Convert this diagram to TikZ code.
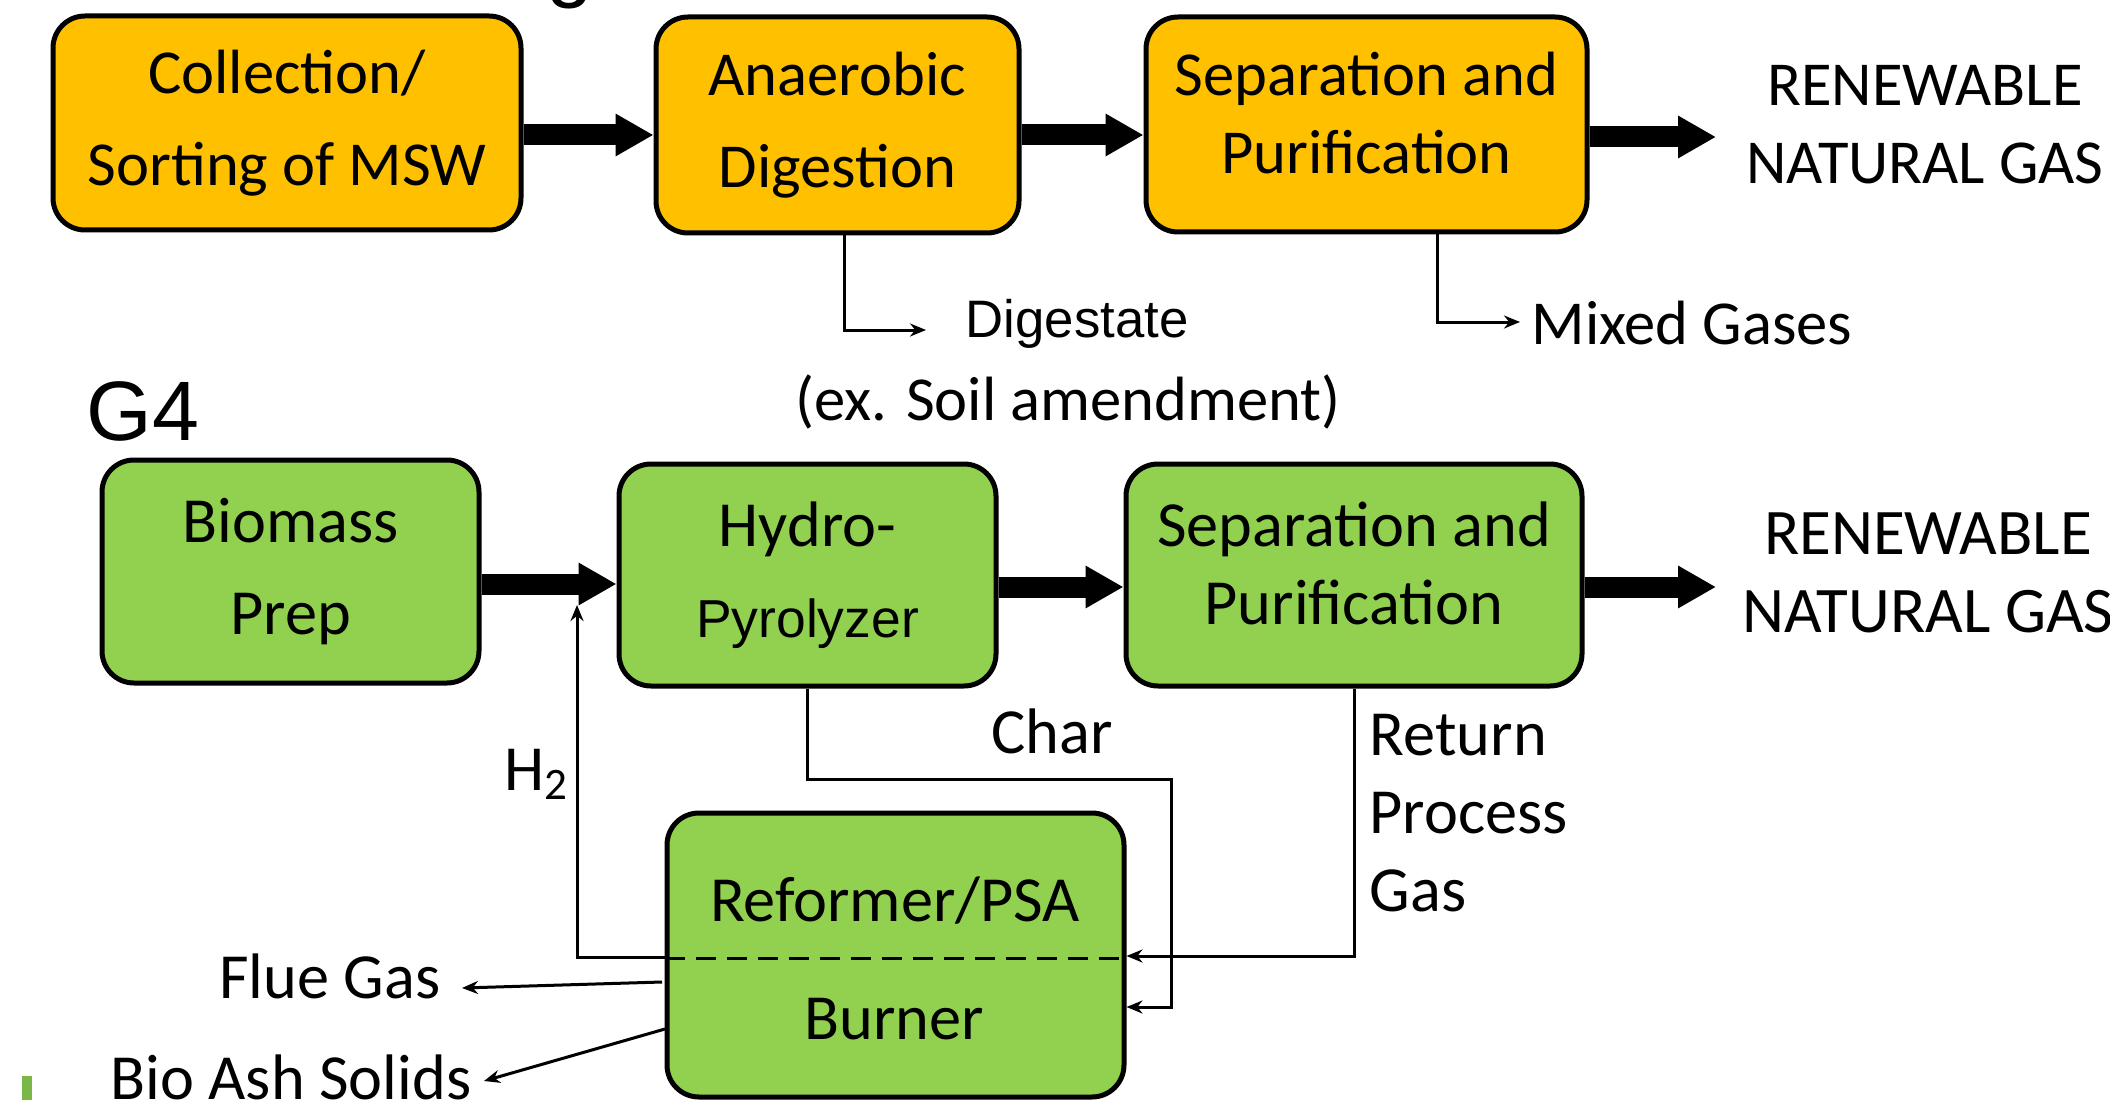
\documentclass[tikz,border=0pt]{standalone}
\usepackage{fontspec}
\setmainfont{Carlito}
\newfontfamily\arialfont{Liberation Sans}
\usetikzlibrary{arrows.meta,calc}
\definecolor{boxgold}{HTML}{FFC000}
\definecolor{boxgreen}{HTML}{92D050}
\definecolor{markgreen}{HTML}{7AB648}

\begin{document}
\begin{tikzpicture}[
		box/.style={draw=black,line width=0.05cm,rounded corners=0.32cm,align=center,inner sep=0pt},
		gold/.style={box,fill=boxgold,font=\fontsize{17.8}{26.2}\selectfont},
		leaf/.style={box,fill=boxgreen,font=\fontsize{18.3}{26.2}\selectfont},
		txt/.style={inner sep=0pt,align=center,font=\fontsize{17.8}{22.2}\selectfont},
		txtb/.style={inner sep=0pt,align=center,font=\fontsize{18.3}{22.2}\selectfont},
		arialtxt/.style={inner sep=0pt,font=\arialfont\fontsize{15}{18}\selectfont},
		pipe/.style={line width=0.21cm,-{Triangle[length=0.38cm,width=0.40cm]}},
		flow/.style={line width=0.03cm,-{Stealth[length=0.16cm,width=0.13cm]}},
	]
			\useasboundingbox (0,0) rectangle (21.1,-11);
			\clip (0,0) rectangle (21.1,-11);
			% headings
			\node[anchor=base,inner sep=0pt,font=\arialfont\fontsize{24}{24}\selectfont] (titleg) at (5.70,0.08) {g};
			\node[inner sep=0pt,font=\arialfont\fontsize{24}{24}\selectfont] (gfour) at (1.43,-4.11) {G4};
			\fill[markgreen] (0.22,-10.76) rectangle (0.32,-11);
			% anaerobic digestion row
			\node[gold,minimum width=4.68cm,minimum height=2.14cm] (collect) at (2.87,-1.23) {Collection/\\Sorting of MSW};
			\node[gold,minimum width=3.63cm,minimum height=2.16cm] (digest) at (8.375,-1.25) {Anaerobic\\Digestion};
			\node[gold,minimum width=4.41cm,minimum height=2.15cm,font=\fontsize{17.8}{22}\selectfont] (sepA) at (13.665,-1.245) {Separation and\\Purification\strut};
			\node[txt] (rngA) at (19.25,-1.25) {RENEWABLE\\NATURAL GAS};
			\node[arialtxt] (digout) at (10.77,-3.24) {Digestate};
			\node[txt] (soil) at (10.68,-4.02) {(ex. Soil amendment)};
			\node[txt] (mixed) at (16.92,-3.23) {Mixed Gases};
			\coordinate (rngtipA) at (17.16,-1.37);
			\coordinate (digtip) at (9.26,-3.30);
			\coordinate (mixtip) at (15.20,-3.22);
			\draw[pipe] (collect.east |- 0,-1.35) -- (digest.west |- 0,-1.35);
			\draw[pipe] (digest.east |- 0,-1.35) -- (sepA.west |- 0,-1.35);
			\draw[pipe] (sepA.east |- 0,-1.37) -- (rngtipA);
			\draw[flow] (digest.south -| 8.44,0) |- (digtip);
			\draw[flow] (sepA.south -| 14.37,0) |- (mixtip);
			% hydropyrolysis row
			\node[leaf,minimum width=3.77cm,minimum height=2.23cm] (prep) at (2.905,-5.715) {Biomass\\Prep};
			\node[leaf,minimum width=3.77cm,minimum height=2.22cm,font=\fontsize{18.3}{25.9}\selectfont] (pyro) at (8.075,-5.75)
				{Hydro-\\{\arialfont\fontsize{15.2}{25.9}\selectfont Pyrolyzer}};
			\node[leaf,minimum width=4.56cm,minimum height=2.22cm,font=\fontsize{18.3}{22.2}\selectfont] (sepB) at (13.54,-5.75) {Separation and\\Purification\strut};
			\node[txtb,font=\fontsize{18.5}{22.2}\selectfont] (rngB) at (19.28,-5.73) {RENEWABLE\\NATURAL GAS};
			\node[leaf,minimum width=4.57cm,minimum height=2.84cm] (reform) at (8.955,-9.55) {};
			\node[txtb] (reftop) at (8.95,-9.01) {Reformer/PSA};
			\node[txtb] (burner) at (8.94,-10.19) {Burner};
			\draw[line width=0.03cm,dash pattern=on 0.2cm off 0.11cm] (reform.west |- 0,-9.58) -- (reform.east |- 0,-9.58);
			\node[txtb] (char) at (10.52,-7.31) {Char};
			\node[txtb,align=left,anchor=west] (retgas) at (13.69,-8.13) {Return\\Process\\Gas};
			\node[txtb] (htwo) at (5.37,-7.74) {H\textsubscript{2}};
			\node[txtb] (flue) at (3.30,-9.76) {Flue Gas};
			\node[txtb] (ash) at (2.91,-10.77) {Bio Ash Solids};
			\coordinate (rngtipB) at (17.16,-5.87);
			\coordinate (htip) at (5.77,-6.05);
			\coordinate (charbend) at (11.71,-7.79);
			\coordinate (fluefrom) at (6.62,-9.82);
			\coordinate (fluetip) at (4.62,-9.88);
			\coordinate (ashfrom) at (6.65,-10.29);
			\coordinate (ashtip) at (4.84,-10.81);
			\draw[pipe] (prep.east |- 0,-5.84) -- (pyro.west |- 0,-5.84);
			\draw[pipe] (pyro.east |- 0,-5.87) -- (sepB.west |- 0,-5.87);
			\draw[pipe] (sepB.east |- 0,-5.87) -- (rngtipB);
			\draw[flow] (reform.west |- 0,-9.57) -| (htip);
			\draw[flow] (pyro.south) |- (charbend) |- (reform.east |- 0,-10.07);
			\draw[flow] (sepB.south) |- (reform.east |- 0,-9.56);
			\draw[flow] (fluefrom) -- (fluetip);
			\draw[flow] (ashfrom) -- (ashtip);
		\end{tikzpicture}
\end{document}
